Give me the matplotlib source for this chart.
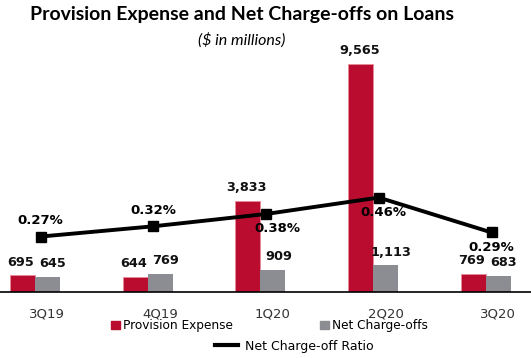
import matplotlib
matplotlib.use("Agg")
import matplotlib.pyplot as plt
import numpy as np
from matplotlib.patches import Patch
from matplotlib.lines import Line2D

# data
quarters = ["3Q19", "4Q19", "1Q20", "2Q20", "3Q20"]
provision = [695, 644, 3833, 9565, 769]
charge_offs = [645, 769, 909, 1113, 683]
nco_ratio = [0.27, 0.32, 0.38, 0.46, 0.29]
ratio_below = [False, False, True, True, True]

red = "#BA0C2F"
gray = "#8C8D92"

fig = plt.figure(figsize=(5.31, 3.58), dpi=100)
ax = fig.add_axes([0, 66 / 358, 1, 232 / 358])
x = np.arange(len(quarters))
w = 0.222

b1 = ax.bar(x - w / 2, provision, w, color=red, edgecolor="#E88A9A", linewidth=0.6)
b2 = ax.bar(x + w / 2, charge_offs, w, color=gray)

# etiquetas de valores
for rect, v in zip(b1, provision):
    ax.annotate(f"{v:,}", (rect.get_x() + rect.get_width() / 2, v),
                xytext=(-1, 5), textcoords="offset points", ha="center", va="bottom",
                fontsize=9.3, fontweight="bold", color="#111111")
for rect, v in zip(b2, charge_offs):
    ax.annotate(f"{v:,}", (rect.get_x() + rect.get_width() / 2, v),
                xytext=(4, 5), textcoords="offset points", ha="center", va="bottom",
                fontsize=9.3, fontweight="bold", color="#111111")

ax.set_xlim(-0.31, 4.40)
ax.set_ylim(0, 9740)
for s in ["top", "right", "left"]:
    ax.spines[s].set_visible(False)
ax.spines["bottom"].set_linewidth(1.2)
ax.set_yticks([])
ax.set_xticks(x + 0.11)
ax.set_xticklabels(quarters, fontsize=9.5, color="#333333")
ax.tick_params(axis="x", length=0, pad=11)

# ratio line on secondary axis
ax2 = ax.twinx()
ax2.set_ylim(0, 1.13)
ax2.axis("off")
lx = x + 0.05
ax2.plot(lx, nco_ratio, color="black", lw=2.8, marker="s", ms=6.5)
label_dx = [0, 0, 8, 3, 0]
for xi, r, below, dx in zip(lx, nco_ratio, ratio_below, label_dx):
    if below:
        ax2.annotate(f"{r:.2f}%", (xi, r), xytext=(dx, -6), textcoords="offset points",
                     ha="center", va="top", fontsize=9.5, fontweight="bold")
    else:
        ax2.annotate(f"{r:.2f}%", (xi, r), xytext=(dx, 7), textcoords="offset points",
                     ha="center", va="bottom", fontsize=9.5, fontweight="bold")

fig.text(0.455, 0.96, "Provision Expense and Net Charge-offs on Loans",
         ha="center", va="center", fontsize=14, fontweight="bold", family="Lato")
fig.text(0.455, 0.888, "($ in millions)", ha="center", va="center",
         fontsize=11.5, style="italic", family="Lato")

h1 = [Patch(color=red), Patch(color=gray)]
fig.legend(h1, ["Provision Expense", "Net Charge-offs"], ncol=2,
           loc="center", bbox_to_anchor=(0.508, 0.09), frameon=False,
           fontsize=8.7, handlelength=0.7, handleheight=0.7, handletextpad=0.3,
           columnspacing=7.2)
h2 = [Line2D([0], [0], color="black", lw=3)]
fig.legend(h2, ["Net Charge-off Ratio"], loc="center", bbox_to_anchor=(0.555, 0.033),
           frameon=False, fontsize=9, handlelength=1.8, handletextpad=0.6)

fig.savefig("out.png", dpi=100)
